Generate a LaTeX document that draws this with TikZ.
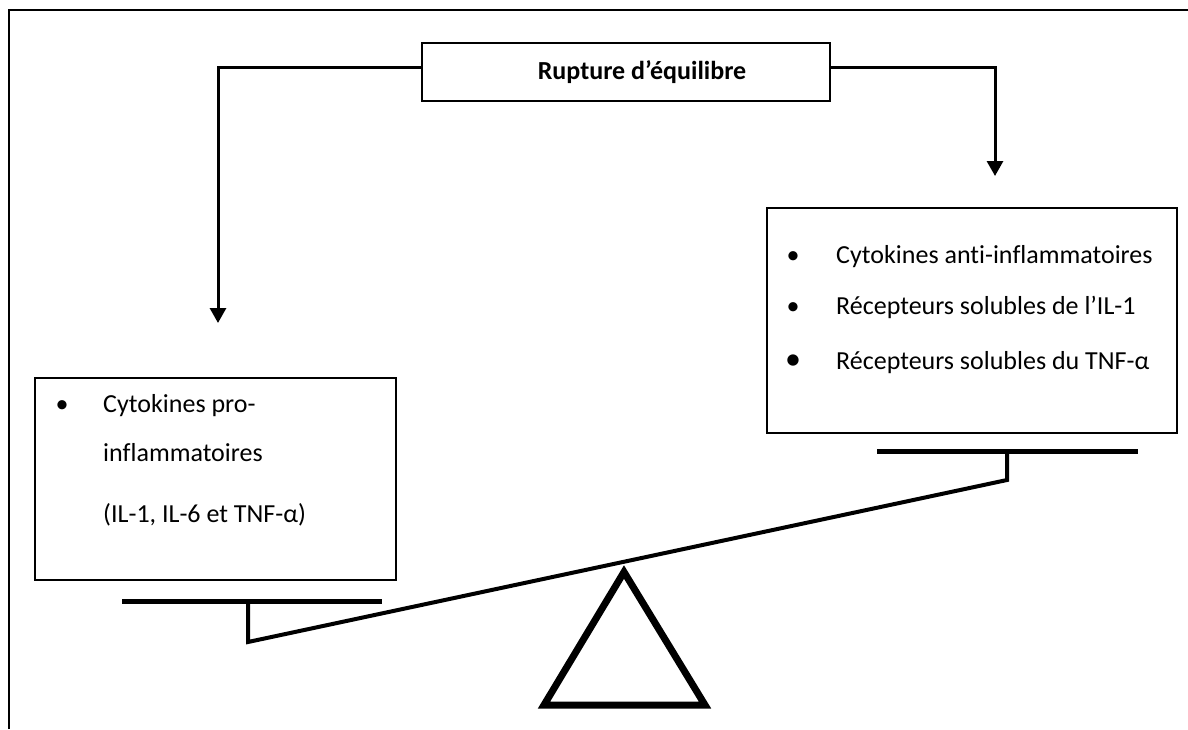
\documentclass[tikz,border=0pt]{standalone}
\usepackage{fontspec}
\setmainfont{Carlito}[Ligatures=NoCommon]
\usetikzlibrary{arrows.meta}
\begin{document}
\begin{tikzpicture}[x=1pt,y=-1pt,
  box/.style={draw,line width=1.6pt,inner sep=0pt},
  conn/.style={line width=3pt,-{Triangle[width=16pt,length=15pt]}},
  txt/.style={font=\fontsize{26}{30}\selectfont,anchor=base west,inner sep=0pt},
  bul/.style={font=\fontsize{26}{30}\selectfont,anchor=base,inner sep=0pt},
  beam/.style={line width=4pt,line join=miter},
  pan/.style={line width=5pt},
  tri/.style={line width=7pt,line join=miter},
]
\useasboundingbox (0,0) rectangle (1188,729);
% page frame
\draw[line width=2pt] (9,729) -- (9,10) -- (1188,10);

% top box
\node[box,minimum width=408pt,minimum height=58pt,font=\bfseries\fontsize{26}{30}\selectfont] (top) at (626,72) {\hspace*{32pt}Rupture d’équilibre};

% right box
\node[box,minimum width=410pt,minimum height=225pt] (rbox) at (972,320.5) {};
\node[bul] (rb1) at (793,263) {•};
\node[txt] (rt1) at (836,263) {Cytokines anti-inflammatoires};
\node[bul] (rb2) at (793,314) {•};
\node[txt] (rt2) at (836,314) {Récepteurs solubles de l’IL-1};
\node[bul,font=\fontsize{32}{36}\selectfont] (rb3) at (793,369) {•};
\node[txt] (rt3) at (836,369) {Récepteurs solubles du TNF-α};

% left box
\node[box,minimum width=361pt,minimum height=202pt] (lbox) at (215.5,479) {};
\node[bul] (lb1) at (62,412) {•};
\node[txt] (lt1) at (103,412) {Cytokines pro-};
\node[txt] (lt2) at (103,461) {inflammatoires};
\node[txt] (lt3) at (103,522) {(IL-1, IL-6 et TNF-α)};

% connectors
\coordinate (la) at (218,323);
\coordinate (ra) at (995,176);
\draw[conn] ([yshift=5pt]top.west) -| (la);
\draw[conn] ([yshift=5pt]top.east) -| (ra);

% balance
\draw[pan] (877,451) -- (1138,451);
\draw[beam] (1007,451) -- (1007,480) -- (248,642) -- (248,601);
\draw[pan] (122,601) -- (382,601);
\draw[tri] (624,572) -- (705,705) -- (544,705) -- cycle;
\end{tikzpicture}
\end{document}
